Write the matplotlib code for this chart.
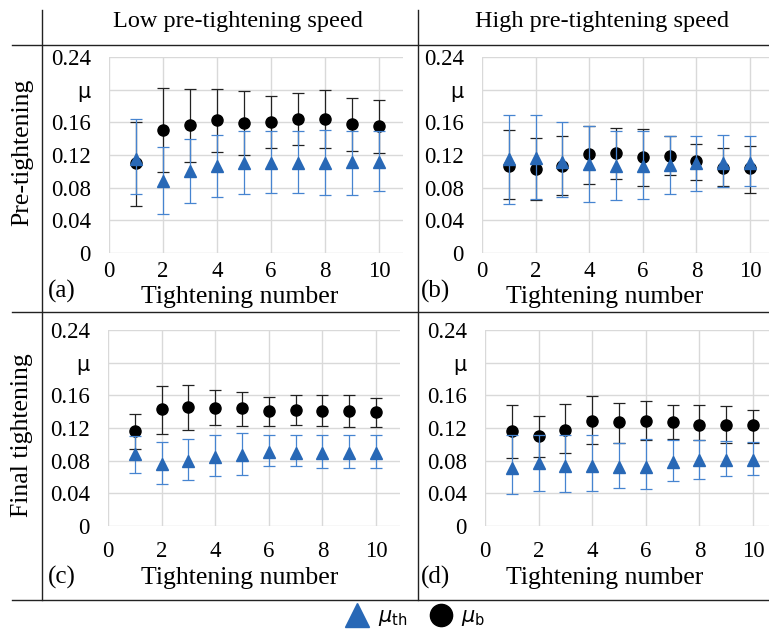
import matplotlib
matplotlib.use('Agg')
import matplotlib.pyplot as plt
from matplotlib.lines import Line2D

plt.rcParams['font.family'] = ['Liberation Serif', 'DejaVu Sans']
plt.rcParams['mathtext.fontset'] = 'dejavusans'

# tightening number
x = [1, 2, 3, 4, 5, 6, 7, 8, 9, 10]

# (a) low speed, pre-tightening
a_b_mean = [0.110, 0.151, 0.157, 0.163, 0.159, 0.160, 0.164, 0.164, 0.158, 0.155]
a_b_low = [0.058, 0.099, 0.112, 0.124, 0.120, 0.128, 0.132, 0.128, 0.125, 0.122]
a_b_high = [0.160, 0.202, 0.201, 0.201, 0.198, 0.192, 0.196, 0.199, 0.190, 0.187]
a_th_mean = [0.115, 0.088, 0.100, 0.106, 0.110, 0.110, 0.110, 0.110, 0.111, 0.112]
a_th_low = [0.072, 0.048, 0.061, 0.068, 0.072, 0.073, 0.073, 0.071, 0.071, 0.076]
a_th_high = [0.164, 0.130, 0.140, 0.144, 0.149, 0.149, 0.150, 0.151, 0.150, 0.150]

# (b) high speed, pre-tightening
b_b_mean = [0.106, 0.103, 0.106, 0.121, 0.123, 0.117, 0.119, 0.113, 0.104, 0.104]
b_b_low = [0.066, 0.065, 0.071, 0.084, 0.091, 0.082, 0.095, 0.090, 0.082, 0.074]
b_b_high = [0.151, 0.141, 0.143, 0.156, 0.153, 0.152, 0.143, 0.133, 0.128, 0.131]
b_th_mean = [0.115, 0.116, 0.112, 0.109, 0.107, 0.106, 0.108, 0.110, 0.110, 0.110]
b_th_low = [0.060, 0.066, 0.068, 0.063, 0.065, 0.066, 0.072, 0.076, 0.081, 0.082]
b_th_high = [0.169, 0.169, 0.160, 0.156, 0.150, 0.150, 0.143, 0.143, 0.145, 0.143]

# (c) low speed, final tightening
c_b_mean = [0.116, 0.143, 0.146, 0.145, 0.144, 0.141, 0.142, 0.141, 0.141, 0.139]
c_b_low = [0.094, 0.113, 0.118, 0.124, 0.123, 0.123, 0.124, 0.122, 0.121, 0.121]
c_b_high = [0.137, 0.172, 0.173, 0.166, 0.164, 0.158, 0.160, 0.160, 0.160, 0.157]
c_th_mean = [0.088, 0.076, 0.080, 0.084, 0.087, 0.091, 0.090, 0.090, 0.090, 0.090]
c_th_low = [0.065, 0.051, 0.056, 0.061, 0.062, 0.073, 0.073, 0.071, 0.071, 0.071]
c_th_high = [0.110, 0.103, 0.106, 0.112, 0.114, 0.112, 0.111, 0.112, 0.112, 0.112]

# (d) high speed, final tightening
d_b_mean = [0.116, 0.110, 0.118, 0.129, 0.127, 0.129, 0.127, 0.124, 0.124, 0.124]
d_b_low = [0.083, 0.085, 0.089, 0.101, 0.102, 0.105, 0.106, 0.105, 0.102, 0.102]
d_b_high = [0.148, 0.135, 0.149, 0.159, 0.151, 0.153, 0.148, 0.148, 0.147, 0.142]
d_th_mean = [0.071, 0.077, 0.074, 0.074, 0.072, 0.072, 0.078, 0.081, 0.081, 0.081]
d_th_low = [0.039, 0.043, 0.042, 0.043, 0.047, 0.045, 0.055, 0.058, 0.061, 0.063]
d_th_high = [0.111, 0.111, 0.112, 0.111, 0.102, 0.107, 0.105, 0.105, 0.104, 0.103]

yticks = [0, 0.04, 0.08, 0.12, 0.16, 0.20, 0.24]
ylabels = ['0', '0.04', '0.08', '0.12', '0.16', 'μ', '0.24']
xticks = [0, 2, 4, 6, 8, 10]

W, H = 769, 635
fig = plt.figure(figsize=(W / 100, H / 100), dpi=100)

blue = '#2868b6'
blue_err = '#4684d0'


def fx(p):
    return p / W


def fy(p):
    return 1 - p / H


def panel(left, top, unit, bottom, b_mean, b_low, b_high, t_mean, t_low, t_high, xpad):
    right = left + 10.9 * unit
    ax = fig.add_axes([fx(left), fy(bottom), (right - left) / W, (bottom - top) / H])
    ax.errorbar(x, b_mean,
                yerr=[[m - l for m, l in zip(b_mean, b_low)], [h - m for m, h in zip(b_mean, b_high)]],
                fmt='o', color='black', ecolor='#222222', markersize=8,
                elinewidth=0.9, capsize=4, capthick=0.9, zorder=3)
    ax.errorbar(x, t_mean,
                yerr=[[m - l for m, l in zip(t_mean, t_low)], [h - m for m, h in zip(t_mean, t_high)]],
                fmt='^', color=blue, ecolor=blue_err, markersize=8.5,
                elinewidth=0.9, capsize=4, capthick=0.9, zorder=4)
    ax.set_xlim(0, 10.9)
    ax.set_ylim(0, 0.24)
    ax.set_yticks(yticks, ylabels)
    ax.set_xticks(xticks)
    ax.grid(True, color='#d9d9d9', linewidth=1)
    ax.set_axisbelow(True)
    for s in ax.spines.values():
        s.set_visible(False)
    ax.tick_params(axis='y', length=0, pad=13, labelsize=16.5)
    ax.tick_params(axis='x', length=0, pad=xpad, labelsize=16.5)
    ax.get_yticklabels()[5].set_fontfamily('DejaVu Sans')
    ax.get_yticklabels()[5].set_fontsize(15)
    return ax


panel(109, 57, 27.0, 253, a_b_mean, a_b_low, a_b_high, a_th_mean, a_th_low, a_th_high, 6)
panel(482, 57, 26.8, 253, b_b_mean, b_b_low, b_b_high, b_th_mean, b_th_low, b_th_high, 6)
panel(108, 330, 26.8, 526, c_b_mean, c_b_low, c_b_high, c_th_mean, c_th_low, c_th_high, 11)
panel(485, 330, 26.8, 526, d_b_mean, d_b_low, d_b_high, d_th_mean, d_th_low, d_th_high, 11)

# table lines
lc = '#222222'
for y0 in [45, 312, 600]:
    fig.add_artist(Line2D([fx(12), fx(769)], [fy(y0), fy(y0)], color=lc, linewidth=1))
for x0 in [42, 418]:
    fig.add_artist(Line2D([fx(x0), fx(x0)], [fy(10), fy(600)], color=lc, linewidth=1))

# headers
fig.text(fx(238), fy(22), 'Low pre-tightening speed', ha='center', va='center', fontsize=17.5)
fig.text(fx(602), fy(22), 'High pre-tightening speed', ha='center', va='center', fontsize=17.5)
fig.text(fx(22), fy(152), 'Pre-tightening', ha='center', va='center', rotation=90, fontsize=18.5)
fig.text(fx(22), fy(435), 'Final tightening', ha='center', va='center', rotation=90, fontsize=18.5)

# x labels and panel letters
for cx, cy in [(240, 297), (605, 297), (240, 578), (605, 578)]:
    fig.text(fx(cx), fy(cy), 'Tightening number', ha='center', va='center', fontsize=18.5)
for lx, ly, s in [(62, 291, '(a)'), (436, 291, '(b)'), (62, 577, '(c)'), (436, 577, '(d)')]:
    fig.text(fx(lx), fy(ly), s, ha='center', va='center', fontsize=18)

handles = [Line2D([], [], marker='^', linestyle='none', color=blue, markersize=17),
           Line2D([], [], marker='o', linestyle='none', color='black', markersize=16)]
fig.legend(handles, [r'$\mu_{\mathrm{th}}$', r'$\mu_{\mathrm{b}}$'], loc='center',
           bbox_to_anchor=(fx(415), fy(618)), ncol=2, frameon=False, fontsize=15,
           handletextpad=0.4, columnspacing=1.0, handlelength=1.2)

fig.savefig('out.png', dpi=100)
